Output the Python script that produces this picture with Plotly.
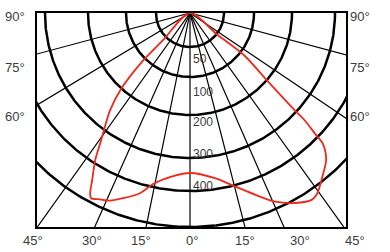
import numpy as np
import plotly.graph_objects as go

# ---- grid of the polar diagram (apex at top centre, 0° pointing down) ----
ring_radii = [34, 64, 102, 145, 178, 214]
ray_angles = [-75, -59, -35.5, -24, -11.6, 0, 14.4, 23.7, 35.7, 56, 75]

# ---- labels ----
radial_labels = ["50", "100", "200", "300", "400"]
side_labels = ["90°", "75°", "60°"]
bottom_labels = ["45°", "30°", "15°", "0°", "15°", "30°", "45°"]

# ---- light distribution curve (angle in degrees, radius in diagram units) ----
curve_angle = [-45.0, -44.8, -44.6, -42.1, -39.4, -36.8, -34.6, -32.8, -30.3, -29.0,
               -28.1, -25.8, -23.1, -19.9, -15.5, -12.2, -5.9, 0.0, 8.6, 14.5,
               19.7, 24.3, 28.9, 33.2, 35.1, 38.4, 42.9, 45.5, 46.0, 46.9,
               47.1, 48.8, 52.0, 51.5, 51.5]
curve_r = [0, 38, 67, 104, 126, 142, 158, 175, 194, 206,
           210, 207, 204, 197, 187, 175, 164, 160, 167, 179,
           193, 207, 217, 223, 221, 212, 200, 186, 174, 157,
           143, 102, 69, 35, 0]

# positions of the text labels (layout only, diagram units)
radial_label_y = [-46, -79, -109, -141, -173]
side_label_y = [-3.5, -54.5, -103.5]
bottom_label_x = [-157, -98, -49, 2, 55, 110, 165]

XR = [-153, 156]
YR = [-214, 0]

FONT = "Liberation Sans, Arial, Helvetica, sans-serif"
TXT = "#3c3c3c"


def polar_xy(ang_deg, r):
    a = np.radians(np.asarray(ang_deg, dtype=float))
    r = np.asarray(r, dtype=float)
    return r * np.sin(a), -r * np.cos(a)


def px(x):
    return (x - XR[0]) / (XR[1] - XR[0])


def py(y):
    return (y - YR[0]) / (YR[1] - YR[0])


fig = go.Figure()

# rings
theta = np.linspace(-90, 90, 361)
for rr in ring_radii:
    x, y = polar_xy(theta, np.full_like(theta, rr))
    fig.add_trace(go.Scatter(x=x, y=y, mode="lines",
                             line=dict(color="black", width=2.5),
                             hoverinfo="skip", showlegend=False))

# rays
for ang in ray_angles:
    x, y = polar_xy([ang, ang], [0, 500])
    fig.add_trace(go.Scatter(x=x, y=y, mode="lines",
                             line=dict(color="black", width=1.2),
                             hoverinfo="skip", showlegend=False))

# curve
cx, cy = polar_xy(curve_angle, curve_r)
fig.add_trace(go.Scatter(x=cx, y=cy, mode="lines",
                         line=dict(color="#ee2a1c", width=1.8, shape="spline", smoothing=0.8),
                         hoverinfo="skip", showlegend=False))

annotations = []
for lab, yy in zip(radial_labels, radial_label_y):
    annotations.append(dict(x=px(1), y=py(yy), xref="paper", yref="paper", text=lab,
                            showarrow=False, xanchor="left", yanchor="middle",
                            font=dict(family=FONT, size=12, color=TXT)))
for lab, yy in zip(side_labels, side_label_y):
    annotations.append(dict(x=px(-163), y=py(yy), xref="paper", yref="paper", text=lab,
                            showarrow=False, xanchor="right", yanchor="middle",
                            font=dict(family=FONT, size=13, color=TXT)))
    annotations.append(dict(x=px(158), y=py(yy), xref="paper", yref="paper", text=lab,
                            showarrow=False, xanchor="left", yanchor="middle",
                            font=dict(family=FONT, size=13, color=TXT)))
for lab, xx in zip(bottom_labels, bottom_label_x):
    annotations.append(dict(x=px(xx), y=py(-227), xref="paper", yref="paper", text=lab,
                            showarrow=False, xanchor="center", yanchor="middle",
                            font=dict(family=FONT, size=13, color=TXT)))

axis_common = dict(showline=True, mirror=True, linecolor="black", linewidth=1.5,
                   showgrid=False, zeroline=False, showticklabels=False, ticks="",
                   fixedrange=True)
fig.update_layout(
    width=390, height=252,
    margin=dict(l=37, r=44, t=13, b=25),
    paper_bgcolor="white", plot_bgcolor="white",
    xaxis=dict(range=XR, **axis_common),
    yaxis=dict(range=YR, **axis_common),
    annotations=annotations,
    showlegend=False,
)

fig.write_html("out.html")
